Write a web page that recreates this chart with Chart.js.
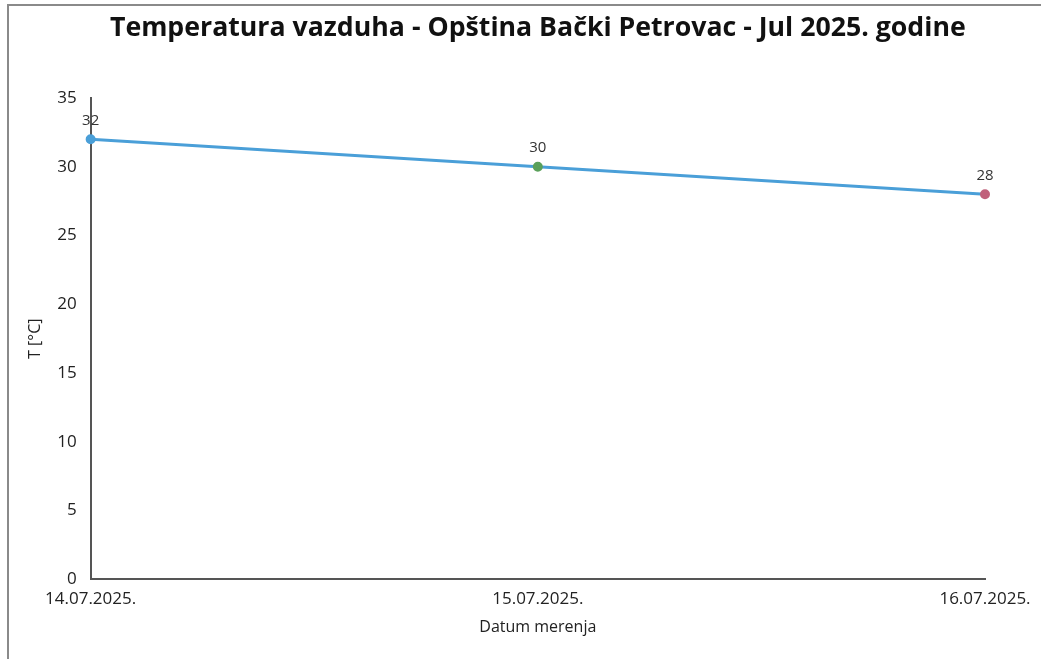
<!DOCTYPE html>
<html>
<head>
<meta charset="utf-8">
<script src="https://cdn.jsdelivr.net/npm/chart.js@4.4.1/dist/chart.umd.min.js"></script>
<style>
  html, body { margin: 0; padding: 0; background: #fff; }
  #okvir { position: absolute; left: 0; top: 0; width: 1041px; height: 659px; }
  #ivica { position: absolute; left: 7px; top: 4px; width: 1034px; height: 655px;
           border-left: 2px solid #8a8a8a; border-top: 2px solid #8a8a8a; box-sizing: border-box; }
  canvas { position: absolute; left: 0; top: 0; }
</style>
</head>
<body>
<div id="okvir">
  <div id="ivica"></div>
  <canvas id="grafikTemp" width="1041" height="659"></canvas>
</div>
<script>
const datumi = ["14.07.2025.", "15.07.2025.", "16.07.2025."];
const temperature = [32, 30, 28];
const bojeTacaka = ["#4a9fd8", "#5aa05a", "#c0607a"];

const font = "'Open Sans', 'Noto Sans', sans-serif";

// ispis vrednosti iznad tacaka
const oznakeVrednosti = {
  id: "oznakeVrednosti",
  afterDatasetsDraw(chart) {
    const ctx = chart.ctx;
    const meta = chart.getDatasetMeta(0);
    ctx.save();
    ctx.font = "15px " + font;
    ctx.fillStyle = "#333";
    ctx.textAlign = "center";
    ctx.textBaseline = "middle";
    meta.data.forEach((p, i) => {
      ctx.fillText(String(temperature[i]), p.x, p.y - 19);
    });
    ctx.restore();
  }
};

const ctx = document.getElementById("grafikTemp").getContext("2d");
new Chart(ctx, {
  type: "line",
  data: {
    labels: datumi,
    datasets: [{
      label: "T",
      data: temperature,
      borderColor: "#4a9fd8",
      borderWidth: 3,
      pointBackgroundColor: bojeTacaka,
      pointBorderColor: bojeTacaka,
      pointRadius: 3.5,
      tension: 0
    }]
  },
  options: {
    responsive: false,
    animation: false,
    layout: { padding: { left: 22, right: 56, top: 10, bottom: 18 } },
    plugins: {
      legend: { display: false },
      tooltip: { enabled: false },
      title: {
        display: true,
        fullSize: false,
        text: "Temperatura vazduha - Opština Bački Petrovac - Jul 2025. godine",
        color: "#111",
        font: { family: font, size: 26.7, weight: "bold" },
        padding: { top: 2, bottom: 54 }
      }
    },
    scales: {
      x: {
        offset: false,
        grid: { display: false },
        border: { display: true, color: "#555", width: 2 },
        ticks: { color: "#222", font: { family: font, size: 17 }, maxRotation: 0, padding: 2 },
        title: { display: true, text: "Datum merenja", color: "#222", font: { family: font, size: 16 }, padding: { top: 6 } }
      },
      y: {
        min: 0,
        max: 35,
        grid: { display: false },
        border: { display: true, color: "#555", width: 2 },
        ticks: { stepSize: 5, color: "#222", font: { family: font, size: 17 }, padding: 6 },
        title: { display: true, text: "T [°C]", color: "#222", font: { family: font, size: 16 }, padding: { bottom: 6 } }
      }
    }
  },
  plugins: [oznakeVrednosti]
});
</script>
</body>
</html>
